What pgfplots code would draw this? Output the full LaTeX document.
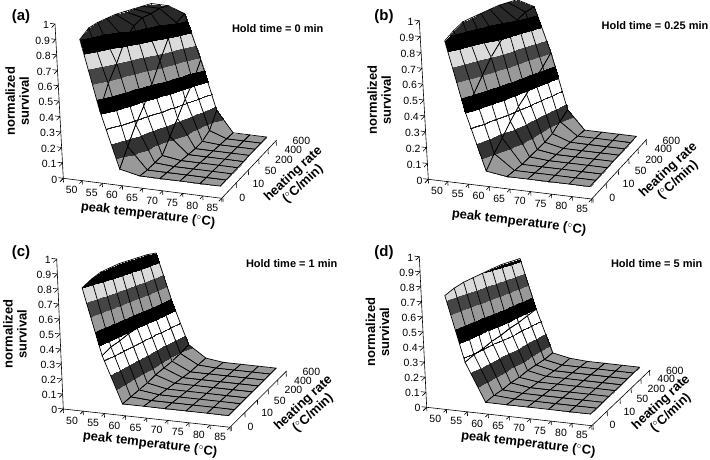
\documentclass[border=0pt]{standalone}
\usepackage{fontspec}
\setmainfont{Liberation Sans}
\usepackage{pgfplots}
\pgfplotsset{compat=1.18}
\usepackage{pgfplotstable}

% survival: one line per heating-rate row, back row first
\pgfplotstableread[row sep=\\]{
x y z\\
50 8 1.00\\ 55 8 1.00\\ 60 8 .95\\ 65 8 .58\\ 70 8 .17\\ 75 8 0\\ 80 8 0\\ 85 8 0\\
50 7 1.00\\ 55 7 1.00\\ 60 7 .90\\ 65 7 .43\\ 70 7 .05\\ 75 7 0\\ 80 7 0\\ 85 7 0\\
50 6 1.00\\ 55 6 .98\\ 60 6 .80\\ 65 6 .33\\ 70 6 .01\\ 75 6 0\\ 80 6 0\\ 85 6 0\\
50 5 1.00\\ 55 5 .97\\ 60 5 .65\\ 65 5 .22\\ 70 5 0\\ 75 5 0\\ 80 5 0\\ 85 5 0\\
50 4 1.00\\ 55 4 .93\\ 60 4 .50\\ 65 4 .12\\ 70 4 0\\ 75 4 0\\ 80 4 0\\ 85 4 0\\
50 3 .99\\ 55 3 .85\\ 60 3 .37\\ 65 3 .02\\ 70 3 0\\ 75 3 0\\ 80 3 0\\ 85 3 0\\
50 2 .98\\ 55 2 .70\\ 60 2 .27\\ 65 2 .01\\ 70 2 0\\ 75 2 0\\ 80 2 0\\ 85 2 0\\
50 1 .96\\ 55 1 .58\\ 60 1 .15\\ 65 1 0\\ 70 1 0\\ 75 1 0\\ 80 1 0\\ 85 1 0\\
50 0 .90\\ 55 0 .42\\ 60 0 .03\\ 65 0 0\\ 70 0 0\\ 75 0 0\\ 80 0 0\\ 85 0 0\\
}\tableA
\pgfplotstableread[row sep=\\]{
x y z\\
50 8 1.00\\ 55 8 .96\\ 60 8 .60\\ 65 8 .15\\ 70 8 0\\ 75 8 0\\ 80 8 0\\ 85 8 0\\
50 7 1.00\\ 55 7 .94\\ 60 7 .52\\ 65 7 .10\\ 70 7 0\\ 75 7 0\\ 80 7 0\\ 85 7 0\\
50 6 1.00\\ 55 6 .90\\ 60 6 .45\\ 65 6 .05\\ 70 6 0\\ 75 6 0\\ 80 6 0\\ 85 6 0\\
50 5 .99\\ 55 5 .85\\ 60 5 .38\\ 65 5 .03\\ 70 5 0\\ 75 5 0\\ 80 5 0\\ 85 5 0\\
50 4 .98\\ 55 4 .78\\ 60 4 .32\\ 65 4 .02\\ 70 4 0\\ 75 4 0\\ 80 4 0\\ 85 4 0\\
50 3 .97\\ 55 3 .70\\ 60 3 .25\\ 65 3 .01\\ 70 3 0\\ 75 3 0\\ 80 3 0\\ 85 3 0\\
50 2 .96\\ 55 2 .60\\ 60 2 .17\\ 65 2 0\\ 70 2 0\\ 75 2 0\\ 80 2 0\\ 85 2 0\\
50 1 .92\\ 55 1 .50\\ 60 1 .10\\ 65 1 0\\ 70 1 0\\ 75 1 0\\ 80 1 0\\ 85 1 0\\
50 0 .87\\ 55 0 .40\\ 60 0 .02\\ 65 0 0\\ 70 0 0\\ 75 0 0\\ 80 0 0\\ 85 0 0\\
}\tableB
\pgfplotstableread[row sep=\\]{
x y z\\
50 8 .88\\ 55 8 .47\\ 60 8 .12\\ 65 8 .02\\ 70 8 0\\ 75 8 0\\ 80 8 0\\ 85 8 0\\
50 7 .89\\ 55 7 .45\\ 60 7 .09\\ 65 7 .01\\ 70 7 0\\ 75 7 0\\ 80 7 0\\ 85 7 0\\
50 6 .89\\ 55 6 .43\\ 60 6 .07\\ 65 6 0\\ 70 6 0\\ 75 6 0\\ 80 6 0\\ 85 6 0\\
50 5 .89\\ 55 5 .42\\ 60 5 .06\\ 65 5 0\\ 70 5 0\\ 75 5 0\\ 80 5 0\\ 85 5 0\\
50 4 .89\\ 55 4 .40\\ 60 4 .05\\ 65 4 0\\ 70 4 0\\ 75 4 0\\ 80 4 0\\ 85 4 0\\
50 3 .88\\ 55 3 .39\\ 60 3 .03\\ 65 3 0\\ 70 3 0\\ 75 3 0\\ 80 3 0\\ 85 3 0\\
50 2 .87\\ 55 2 .37\\ 60 2 .02\\ 65 2 0\\ 70 2 0\\ 75 2 0\\ 80 2 0\\ 85 2 0\\
50 1 .84\\ 55 1 .36\\ 60 1 .01\\ 65 1 0\\ 70 1 0\\ 75 1 0\\ 80 1 0\\ 85 1 0\\
50 0 .80\\ 55 0 .33\\ 60 0 0\\ 65 0 0\\ 70 0 0\\ 75 0 0\\ 80 0 0\\ 85 0 0\\
}\tableC
\pgfplotstableread[row sep=\\]{
x y z\\
50 8 .82\\ 55 8 .40\\ 60 8 .04\\ 65 8 .01\\ 70 8 0\\ 75 8 0\\ 80 8 0\\ 85 8 0\\
50 7 .82\\ 55 7 .38\\ 60 7 .03\\ 65 7 0\\ 70 7 0\\ 75 7 0\\ 80 7 0\\ 85 7 0\\
50 6 .82\\ 55 6 .36\\ 60 6 .03\\ 65 6 0\\ 70 6 0\\ 75 6 0\\ 80 6 0\\ 85 6 0\\
50 5 .81\\ 55 5 .35\\ 60 5 .03\\ 65 5 0\\ 70 5 0\\ 75 5 0\\ 80 5 0\\ 85 5 0\\
50 4 .80\\ 55 4 .33\\ 60 4 .02\\ 65 4 0\\ 70 4 0\\ 75 4 0\\ 80 4 0\\ 85 4 0\\
50 3 .79\\ 55 3 .32\\ 60 3 .02\\ 65 3 0\\ 70 3 0\\ 75 3 0\\ 80 3 0\\ 85 3 0\\
50 2 .78\\ 55 2 .30\\ 60 2 .01\\ 65 2 0\\ 70 2 0\\ 75 2 0\\ 80 2 0\\ 85 2 0\\
50 1 .76\\ 55 1 .29\\ 60 1 .01\\ 65 1 0\\ 70 1 0\\ 75 1 0\\ 80 1 0\\ 85 1 0\\
50 0 .73\\ 55 0 .27\\ 60 0 0\\ 65 0 0\\ 70 0 0\\ 75 0 0\\ 80 0 0\\ 85 0 0\\
}\tableD

\pgfplotsset{
  panel/.style={
    anchor=origin, clip=false,
    xmin=47.8, xmax=87.2, ymin=0, ymax=9.5, zmin=0, zmax=1,
    axis x line*=bottom, axis y line*=left, axis z line*=left,
    axis line style={black, line width=.6pt},
    xtick={50,55,...,85},
    minor xtick={47.8,52.5,57.5,62.5,67.5,72.5,77.5,82.5,87.2},
    major x tick style={draw=none},
    ytick={0.2,2.5,4.6,6.4,8.0,9.4},
    yticklabels={0,10,50,200,400,600},
    ztick={0,0.1,...,1.01},
    zticklabels={0,0.1,0.2,0.3,0.4,0.5,0.6,0.7,0.8,0.9,1},
    tick align=outside, major tick length=5pt, minor tick length=4pt,
    tick style={black, line width=.6pt},
    tick label style={font=\fontsize{10.5}{11}\selectfont},
    xticklabel style={anchor=north, xshift=3pt, yshift=0pt},
    yticklabel style={anchor=west, xshift=8pt, yshift=0pt},
    zticklabel style={anchor=east, xshift=1pt, yshift=2.5pt},
    /pgf/number format/assume math mode=true,
    label style={font=\bfseries\fontsize{13}{14}\selectfont, align=center},
    xlabel={peak temperature ($^{\circ}$C)},
    ylabel={heating rate\\($^{\circ}$C/min)},
    zlabel={normalized\\survival},
    colormap={bands}{
      gray(0pt)=(.6) gray(9.8pt)=(.6) gray(10pt)=(.2) gray(19.8pt)=(.2)
      gray(20pt)=(1) gray(29.5pt)=(1) gray(29.7pt)=(.1) gray(30.3pt)=(.1) gray(30.5pt)=(1) gray(39.8pt)=(1)
      gray(40pt)=(0) gray(49.8pt)=(0) gray(50pt)=(.6) gray(59.8pt)=(.6)
      gray(60pt)=(.27) gray(69.8pt)=(.27) gray(70pt)=(.86) gray(79.8pt)=(.86)
      gray(80pt)=(0) gray(89.8pt)=(0) gray(90pt)=(.16) gray(100pt)=(.16)
    },
    point meta min=0, point meta max=1,
  },
  wall/.style={
    surf, shader=faceted interp, faceted color=black, line width=.7pt,
    z buffer=sort, mesh/rows=9, mesh/cols=8,
  },
  xlab/.style 2 args={xlabel style={at={([shift={(#1pt,#2pt)}]rel axis cs:.5,0,0)}, anchor=center, rotate=-7}},
  ylab/.style 2 args={ylabel style={at={([shift={(#1pt,#2pt)}]rel axis cs:1,.5,0)}, anchor=center, rotate=43}},
  zlab/.style 2 args={zlabel style={at={([shift={(#1pt,#2pt)}]rel axis cs:0,0,.5)}, anchor=center}},
}
% the rows recede: x, z shrink with the row index, around the x=85 edge
\newcommand{\surfrows}[1]{
  \addplot3[wall] table[
    x expr={85-(85-\thisrow{x})*(1-0.17*\thisrow{y}/8)+2*\thisrow{z}},
    y expr={\thisrow{y}+1.3},
    z expr={0.02+\thisrow{z}*0.935*(1-0.17*\thisrow{y}/8)},
    point meta=\thisrow{z}] {#1};
}

\begin{document}
\begin{tikzpicture}[x=1pt,y=1pt]
\useasboundingbox (0,0) rectangle (710,460);

\begin{axis}[panel, at={(63.3pt,281.7pt)},
    x={(4.02pt,-0.508pt)}, y={(5.79pt,6.14pt)}, z={(-8.3pt,154.3pt)},
    xlab={5.5}{-26.7}, ylab={49}{-10}, zlab={-42}{0}]
  \surfrows{\tableA}
\end{axis}
\begin{axis}[panel, at={(428.3pt,280.7pt)},
    x={(4.147pt,-0.5pt)}, y={(5.79pt,6.28pt)}, z={(-9pt,158.6pt)},
    xlab={9}{-33}, ylab={54}{-6}, zlab={-44.5}{0}]
  \surfrows{\tableB}
\end{axis}
\begin{axis}[panel, at={(63.3pt,51pt)},
    x={(4.23pt,-0.464pt)}, y={(5.97pt,5.93pt)}, z={(-6.6pt,150pt)},
    xlab={3.4}{-26}, ylab={50}{-9}, zlab={-45}{0}]
  \surfrows{\tableC}
\end{axis}
\begin{axis}[panel, at={(426.7pt,52.7pt)},
    x={(4.19pt,-0.467pt)}, y={(6.14pt,5.86pt)}, z={(-7.4pt,150.6pt)},
    xlab={19}{-27.5}, ylab={45}{-10}, zlab={-45.5}{0}]
  \surfrows{\tableD}
\end{axis}

\node[font=\bfseries\fontsize{15}{16}\selectfont] at (21,443) {(a)};
\node[font=\bfseries\fontsize{15}{16}\selectfont] at (384,443) {(b)};
\node[font=\bfseries\fontsize{15}{16}\selectfont] at (21,207) {(c)};
\node[font=\bfseries\fontsize{15}{16}\selectfont] at (384,207) {(d)};
\node[font=\bfseries\fontsize{11}{12}\selectfont] at (277.7,431.7) {Hold time = 0 min};
\node[font=\bfseries\fontsize{11}{12}\selectfont] at (655,434.3) {Hold time = 0.25 min};
\node[font=\bfseries\fontsize{11}{12}\selectfont] at (291.7,196.7) {Hold time = 1 min};
\node[font=\bfseries\fontsize{11}{12}\selectfont] at (656.7,196.7) {Hold time = 5 min};
\end{tikzpicture}
\end{document}
